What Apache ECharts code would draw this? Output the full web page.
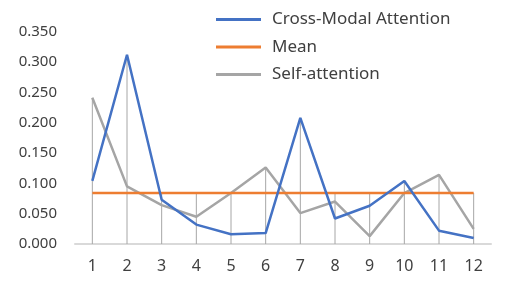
<!DOCTYPE html>
<html><head><meta charset="utf-8">
<script src="https://cdn.jsdelivr.net/npm/echarts@6/dist/echarts.min.js"></script>
<style>html,body{margin:0;padding:0;background:#fff}#c{width:529px;height:286px}</style>
</head><body><div id="c"></div>
<script>
const categories = ['1','2','3','4','5','6','7','8','9','10','11','12'];
const crossModal = [0.104, 0.312, 0.073, 0.032, 0.016, 0.018, 0.208, 0.042, 0.063, 0.104, 0.022, 0.010];
const meanVals = [0.084, 0.084, 0.084, 0.084, 0.084, 0.084, 0.084, 0.084, 0.084, 0.084, 0.084, 0.084];
const selfAttn = [0.241, 0.095, 0.064, 0.045, 0.084, 0.126, 0.051, 0.070, 0.013, 0.084, 0.114, 0.025];
const yTicks = [0, 0.05, 0.1, 0.15, 0.2, 0.25, 0.3, 0.35];

const dropTops = categories.map((c, i) => [i, Math.max(crossModal[i], meanVals[i], selfAttn[i])]);
const font = '"Noto Sans", sans-serif';
const chart = echarts.init(document.getElementById('c'));
chart.setOption({
  animation: false,
  textStyle: {fontFamily: font},
  grid: {left: 75, right: 38, top: 31.7, bottom: 42},
  legend: {
    orient: 'vertical', left: 211, top: 3, padding: 5,
    icon: 'rect', itemWidth: 45, itemHeight: 3, itemGap: 4.5,
    data: ['Cross-Modal Attention', 'Mean', 'Self-attention'],
    textStyle: {fontSize: 17, lineHeight: 23, color: '#404040', fontFamily: font, padding: [0, 0, 0, 6]}
  },
  xAxis: {
    type: 'category', data: categories, boundaryGap: true,
    axisLine: {lineStyle: {color: '#d9d9d9', width: 2}},
    axisTick: {show: false},
    axisLabel: {fontSize: 16, color: '#404040', margin: 14, fontFamily: font}
  },
  yAxis: {
    type: 'value', min: yTicks[0], max: yTicks[yTicks.length - 1], interval: 0.05,
    splitLine: {show: false}, axisLine: {show: false}, axisTick: {show: false},
    axisLabel: {fontSize: 15, color: '#404040', margin: 18, fontFamily: font,
      formatter: v => v.toFixed(3)}
  },
  series: [
    {
      type: 'custom', name: 'drop', z: 1, silent: true,
      data: dropTops,
      renderItem: (params, api) => {
        const p1 = api.coord([api.value(0), api.value(1)]);
        const p0 = api.coord([api.value(0), 0]);
        return {type: 'line', shape: {x1: p1[0], y1: p1[1], x2: p0[0], y2: p0[1]},
          style: {stroke: '#a6a6a6', lineWidth: 1}};
      }
    },
    {name: 'Cross-Modal Attention', type: 'line', data: crossModal, symbol: 'none', z: 4,
      lineStyle: {color: '#4472C4', width: 2.5}, itemStyle: {color: '#4472C4'}},
    {name: 'Mean', type: 'line', data: meanVals, symbol: 'none', z: 3,
      lineStyle: {color: '#ED7D31', width: 2.5}, itemStyle: {color: '#ED7D31'}},
    {name: 'Self-attention', type: 'line', data: selfAttn, symbol: 'none', z: 2,
      lineStyle: {color: '#A5A5A5', width: 2.5}, itemStyle: {color: '#A5A5A5'}}
  ]
});
</script></body></html>
